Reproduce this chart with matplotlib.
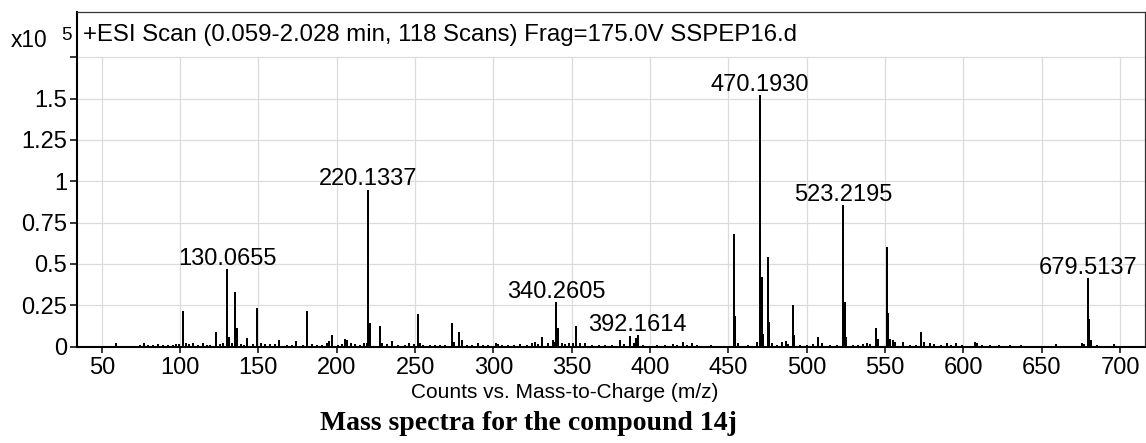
import numpy as np
import matplotlib
matplotlib.use('Agg')
import matplotlib.pyplot as plt

plt.rcParams['font.family'] = ['Liberation Sans', 'DejaVu Sans']

# main peaks, m/z and counts (x10^5)
major_mz = [101.9, 123.2, 130.0655, 131.0, 135.1, 136.1, 143.0, 149.1, 163.1, 174.1,
            181.1, 197.1, 205.5, 206.6, 220.1337, 221.1, 227.4, 235.1, 251.6, 273.6,
            278.2, 279.7, 330.9, 337.8, 340.2605, 341.2, 353.0, 381.0, 387.1, 391.1,
            392.1614, 453.3, 454.3, 468.3, 470.1930, 471.2, 472.2, 475.2, 476.2, 491.2,
            492.2, 507.4, 523.2195, 524.2, 525.2, 544.4, 545.4, 551.0, 552.0, 553.0,
            555.0, 572.8, 607.3, 679.5137, 680.5, 681.5]
major_int = [0.215, 0.089, 0.469, 0.060, 0.332, 0.115, 0.050, 0.234, 0.040, 0.037,
             0.215, 0.069, 0.045, 0.040, 0.950, 0.143, 0.125, 0.035, 0.197, 0.143,
             0.089, 0.040, 0.060, 0.040, 0.268, 0.115, 0.125, 0.040, 0.063, 0.055,
             0.071, 0.679, 0.187, 0.030, 1.520, 0.423, 0.079, 0.540, 0.151, 0.250,
             0.071, 0.060, 0.858, 0.268, 0.059, 0.115, 0.045, 0.604, 0.205, 0.045,
             0.040, 0.087, 0.030, 0.415, 0.167, 0.040]

# small background ions
minor_mz = [50.5, 54.2, 57.0, 59.1, 61.7, 64.9, 68.0, 71.2, 74.4, 77.2, 79.7, 82.9,
            86.1, 89.3, 92.5, 95.7, 97.4, 99.5, 103.8, 105.9, 108.5, 111.6, 114.8,
            117.0, 119.1, 125.5, 127.6, 133.3, 138.7, 141.0, 146.8, 151.5, 154.2,
            157.4, 160.6, 168.0, 171.2, 178.7, 184.0, 187.2, 190.4, 194.0, 195.3,
            201.0, 203.2, 208.9, 211.6, 214.8, 217.4, 219.1, 228.7, 231.9, 239.3,
            243.6, 246.1, 249.3, 253.1, 255.2, 259.5, 262.7, 265.9, 269.1, 275.0,
            282.9, 286.5, 289.9, 293.5, 296.7, 301.4, 303.1, 305.6, 309.5, 313.3,
            317.0, 321.2, 324.4, 326.6, 328.7, 335.1, 339.0, 343.6, 345.8, 348.3,
            350.5, 355.4, 358.6, 362.9, 367.1, 371.4, 375.7, 383.2, 389.6, 395.7,
            399.9, 404.2, 409.5, 414.8, 417.0, 420.8, 423.4, 426.5, 429.7, 434.0,
            438.6, 456.3, 462.6, 477.6, 480.8, 484.0, 486.7, 488.2, 495.6, 499.9,
            504.2, 509.6, 514.9, 519.1, 529.6, 532.8, 536.0, 538.2, 540.3, 556.2,
            561.5, 565.8, 570.0, 574.8, 579.0, 581.2, 585.5, 589.7, 591.8, 595.0,
            599.2, 608.8, 612.0, 616.7, 622.6, 630.0, 637.1, 643.8, 650.2, 659.1,
            667.2, 675.7, 676.7, 685.3, 690.6, 695.9, 700.2]
minor_int = [0.006, 0.007, 0.006, 0.025, 0.006, 0.006, 0.007, 0.006, 0.008, 0.020, 0.008, 0.008,
             0.018, 0.010, 0.010, 0.012, 0.015, 0.015, 0.020, 0.015, 0.020, 0.012, 0.025,
             0.010, 0.012, 0.015, 0.020, 0.020, 0.015, 0.012, 0.015, 0.020, 0.015,
             0.018, 0.015, 0.012, 0.012, 0.012, 0.015, 0.010, 0.012, 0.025, 0.035,
             0.012, 0.015, 0.020, 0.015, 0.012, 0.020, 0.025, 0.020, 0.015, 0.012,
             0.012, 0.020, 0.015, 0.020, 0.010, 0.008, 0.010, 0.010, 0.012, 0.030,
             0.012, 0.012, 0.025, 0.010, 0.008, 0.025, 0.015, 0.010, 0.012, 0.012,
             0.015, 0.012, 0.025, 0.030, 0.015, 0.020, 0.030, 0.020, 0.015, 0.020,
             0.020, 0.020, 0.025, 0.012, 0.008, 0.008, 0.008, 0.015, 0.020, 0.008,
             0.006, 0.008, 0.012, 0.015, 0.010, 0.030, 0.010, 0.025, 0.012, 0.006,
             0.008, 0.020, 0.008, 0.025, 0.010, 0.030, 0.035, 0.015, 0.012, 0.010,
             0.015, 0.020, 0.012, 0.010, 0.012, 0.010, 0.015, 0.020, 0.015, 0.030,
             0.030, 0.010, 0.008, 0.030, 0.020, 0.015, 0.010, 0.020, 0.012, 0.020,
             0.008, 0.020, 0.010, 0.012, 0.008, 0.008, 0.012, 0.005, 0.005, 0.015,
             0.006, 0.025, 0.015, 0.008, 0.006, 0.015, 0.005]

label_mz = [130.0655, 220.1337, 340.2605, 392.1614, 470.1930, 523.2195, 679.5137]

xticks = np.arange(50, 701, 50)
yticks = [0, 0.25, 0.5, 0.75, 1, 1.25, 1.5, 1.75]
ytick_labels = ['0', '0.25', '0.5', '0.75', '1', '1.25', '1.5', '']

header = '+ESI Scan (0.059-2.028 min, 118 Scans) Frag=175.0V SSPEP16.d'

# merge and sort all sticks
mz = np.array(major_mz + minor_mz)
inten = np.array(major_int + minor_int)
order = np.argsort(mz)
mz, inten = mz[order], inten[order]

# stick spectrum as one connected trace (0 -> peak -> 0)
xs = np.repeat(mz, 3)
ys = np.column_stack([np.zeros_like(inten), inten, np.zeros_like(inten)]).ravel()

fig = plt.figure(figsize=(11.46, 4.43), dpi=100)
ax = fig.add_axes([0.0672, 0.2156, 0.932, 0.758])

ax.plot(xs, ys, color='black', lw=1.2, zorder=3, solid_joinstyle='miter')

ax.set_xlim(34.2, 716)
ax.set_ylim(-0.005, 2.025)
ax.set_xticks(xticks)
ax.set_yticks(yticks)
ax.set_yticklabels(ytick_labels)
ax.tick_params(axis='both', labelsize=17, direction='out', width=1.1, color='black')
ax.tick_params(axis='y', length=5, pad=2)
ax.tick_params(axis='x', length=4.3, pad=2.5)

# grid only inside the plotting band, header stays clear
ax.grid(axis='y', color='#dcdcdc', lw=0.9, zorder=0)
ax.vlines(xticks, 0, 1.75, color='#dcdcdc', lw=0.9, zorder=0)

for side in ['left', 'bottom']:
    ax.spines[side].set_linewidth(1.5)
    ax.spines[side].set_color('black')
for side in ['top', 'right']:
    ax.spines[side].set_linewidth(0.9)
    ax.spines[side].set_color('#333333')

lookup = dict(zip(mz, inten))
for m in label_mz:
    ax.annotate('%.4f' % m, (m, lookup[m]), xytext=(0, 3), textcoords='offset points',
                ha='center', va='baseline', fontsize=17)

fig.text(83 / 1146, 1 - 41 / 443, header, fontsize=17.3, va='baseline', ha='left')
fig.text(11 / 1146, 1 - 47 / 443, 'x10', fontsize=16.4, va='baseline', ha='left')
fig.text(61 / 1146, 1 - 40 / 443, '5', fontsize=13.5, va='baseline', ha='left')

fig.text(565 / 1146, 1 - 398 / 443, 'Counts vs. Mass-to-Charge (m/z)', fontsize=15,
         ha='center', va='baseline')
fig.text(528 / 1146, 1 - 430 / 443, 'Mass spectra for the compound 14j',
         family=['Liberation Serif', 'DejaVu Serif'], weight='bold', fontsize=20,
         ha='center', va='baseline')

fig.savefig('out.png', dpi=100)
